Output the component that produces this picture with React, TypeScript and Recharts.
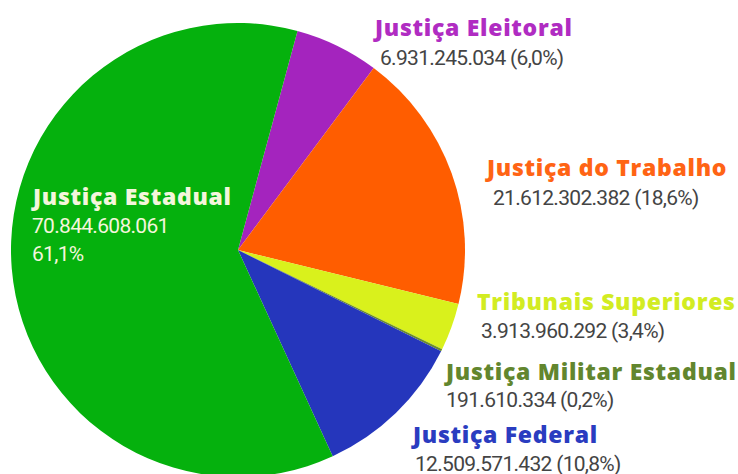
import React from "react";
import { PieChart, Pie, Cell } from "recharts";

const categories = [
  "Justiça Eleitoral",
  "Justiça do Trabalho",
  "Tribunais Superiores",
  "Justiça Militar Estadual",
  "Justiça Federal",
  "Justiça Estadual",
];
const values = [6931245034, 21612302382, 3913960292, 191610334, 12509571432, 70844608061];
const valueLabels = [
  "6.931.245.034",
  "21.612.302.382",
  "3.913.960.292",
  "191.610.334",
  "12.509.571.432",
  "70.844.608.061",
];
const percentLabels = ["6,0%", "18,6%", "3,4%", "0,2%", "10,8%", "61,1%"];

const sliceColors = ["#A424BE", "#FF5D00", "#D9F11C", "#6B8E2A", "#2536BC", "#05B10D"];
const titleColors = ["#B02CC2", "#FF6414", "#D2EC22", "#62862E", "#2A3CC0", "#F4F6DC"];

// label layout (title x, title baseline, value x, value baseline)
const labelLayout = [
  { tx: 375, ty: 36, vx: 380, vy: 65 },
  { tx: 487, ty: 176, vx: 493, vy: 205 },
  { tx: 477, ty: 310, vx: 481, vy: 338 },
  { tx: 446, ty: 380, vx: 446, vy: 407 },
  { tx: 413, ty: 443, vx: 415, vy: 471 },
  { tx: 33, ty: 205, vx: 32, vy: 233 },
];

const data = categories.map((name, i) => ({
  name,
  value: values[i],
  valueLabel: valueLabels[i],
  pct: percentLabels[i],
}));

const titleFont = { fontFamily: "'Open Sans', sans-serif", fontWeight: 800, fontSize: 23, letterSpacing: 0.7 };
const valueFont = { fontFamily: "Roboto, sans-serif", fontWeight: 400, fontSize: 21, letterSpacing: -0.7 };

const renderLabel = (props: any) => {
  const i = props.index;
  const L = labelLayout[i];
  const d = data[i];
  const isInside = i === 5;
  return (
    <g key={`lbl-${i}`}>
      <text x={L.tx} y={L.ty} fill={titleColors[i]} style={titleFont} textAnchor="start">
        {d.name}
      </text>
      {isInside ? (
        <>
          <text x={L.vx} y={L.vy} fill={titleColors[i]} style={valueFont} textAnchor="start">
            {d.valueLabel}
          </text>
          <text x={L.vx} y={L.vy + 28} fill={titleColors[i]} style={valueFont} textAnchor="start">
            {d.pct}
          </text>
        </>
      ) : (
        <text x={L.vx} y={L.vy} fill="#444444" style={valueFont} textAnchor="start">
          {`${d.valueLabel} (${d.pct})`}
        </text>
      )}
    </g>
  );
};

export default function App() {
  return (
    <div style={{ position: "absolute", left: 0, top: 0, background: "#fff" }}>
      <PieChart width={738} height={474} margin={{ top: 0, right: 0, bottom: 0, left: 0 }}>
        <Pie
          data={data}
          dataKey="value"
          nameKey="name"
          cx={238}
          cy={250}
          outerRadius={227}
          innerRadius={0}
          startAngle={74.8}
          endAngle={-285.2}
          stroke="none"
          labelLine={false}
          label={renderLabel}
          isAnimationActive={false}
        >
          {data.map((d, i) => (
            <Cell key={d.name} fill={sliceColors[i]} />
          ))}
        </Pie>
      </PieChart>
    </div>
  );
}
